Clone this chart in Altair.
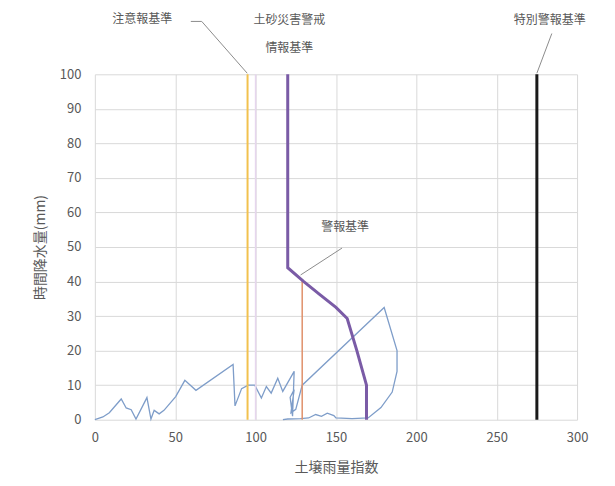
import altair as alt
import pandas as pd

# Snake line (soil rain index vs hourly rainfall), in path order
snake_x = [0, 5, 9, 16.4, 19.5, 22.6, 25.6, 32.4, 34.9, 36.9, 40, 43, 50.3, 56, 62.9, 86, 87.2,
           91.3, 95.4, 99.5, 103.6, 106.7, 109.7, 113.8, 116.9, 124, 123, 121.5, 124, 122, 125,
           129, 180, 188, 188, 185, 178, 170, 160, 150, 148.7, 144.6, 141, 137.4, 133, 128, 120, 117]
snake_y = [0, 0.8, 2, 6, 3.4, 2.9, 0.2, 6.4, 0.2, 2.7, 1.7, 2.7, 6.7, 11.4, 8.5, 16, 4,
           9, 10, 10, 6.3, 9.6, 7.7, 12, 8.2, 14, 1, 6.5, 8.7, 2, 3,
           10, 32.5, 20, 14, 8, 3.5, 0.5, 0.3, 0.5, 1.2, 1.9, 1, 1.5, 0.5, 0.3, 0.2, 0]

# CL line (土砂災害警戒情報基準)
cl_x = [120, 120, 130, 140, 150, 157, 163, 169, 169]
cl_y = [100, 44, 40, 36.2, 32.5, 29.3, 20, 10, 0]

# Criterion lines
warn_x = [129, 129]
warn_y = [0, 40.5]
adv_x = [95, 95]
adv_y = [0, 100]
ref_x = [100, 100]
ref_y = [0, 100]
spec_x = [275, 275]
spec_y = [0, 100]

# Annotations
ann_text = ["注意報基準", "土砂災害警戒", "情報基準", "特別警報基準", "警報基準"]
ann_x = [29.5, 121, 121, 283, 155.7]
ann_y = [115.9, 115.6, 107.6, 115.6, 55.8]

# Leader lines (group, x, y)
lead_g = ["a", "a", "a", "b", "b", "c", "c"]
lead_x = [59.7, 66.5, 94.8, 284.3, 275, 153.8, 128]
lead_y = [115.3, 115.3, 100.3, 111.8, 100.3, 49.7, 41.9]

x_ticks = [0, 50, 100, 150, 200, 250, 300]
y_ticks = [0, 10, 20, 30, 40, 50, 60, 70, 80, 90, 100]

xs = alt.Scale(domain=[0, 300], nice=False)
ys = alt.Scale(domain=[0, 100], nice=False)

X_AXIS = alt.Axis(values=x_ticks, grid=True, ticks=False, domain=False, labelFlush=False,
                  labelOverlap=False, labelPadding=12, titlePadding=16)
Y_AXIS = alt.Axis(values=y_ticks, grid=True, ticks=False, domain=False, labelFlush=False,
                  labelOverlap=False, labelPadding=14, titlePadding=12)


def enc_x():
    return alt.X("x:Q", scale=xs, title="土壌雨量指数", axis=X_AXIS)


def enc_y():
    return alt.Y("y:Q", scale=ys, title="時間降水量(mm)", axis=Y_AXIS)


def line_df(xv, yv):
    return pd.DataFrame({"x": xv, "y": yv, "o": list(range(len(xv)))})


def line_layer(df, color, width):
    return alt.Chart(df).mark_line(color=color, strokeWidth=width).encode(
        x=enc_x(), y=enc_y(), order="o:Q")


layers = [
    line_layer(line_df(snake_x, snake_y), "#7e9dc9", 1.3),
    line_layer(line_df(ref_x, ref_y), "#e6d6ee", 1.5),
    line_layer(line_df(adv_x, adv_y), "#f2c14e", 2),
    line_layer(line_df(warn_x, warn_y), "#e0906a", 1.5),
    line_layer(line_df(cl_x, cl_y), "#7a5ba6", 3),
    line_layer(line_df(spec_x, spec_y), "#1a1a1a", 3),
]

lead_df = pd.DataFrame({"g": lead_g, "x": lead_x, "y": lead_y, "o": list(range(len(lead_x)))})
leaders = alt.Chart(lead_df).mark_line(color="#8c8c8c", strokeWidth=1).encode(
    x=enc_x(), y=enc_y(), detail="g:N", order="o:Q")

ann_df = pd.DataFrame({"t": ann_text, "x": ann_x, "y": ann_y})
texts = alt.Chart(ann_df).mark_text(fontSize=12, color="#595959", align="center",
                                    baseline="middle").encode(
    x=enc_x(), y=enc_y(), text="t:N")

chart = alt.layer(*layers, leaders, texts).properties(
    width=483, height=346,
    padding={"left": 87, "top": 66, "right": 30, "bottom": 60},
    autosize=alt.AutoSizeParams(type="none"),
).configure(font="Noto Sans CJK JP").configure_axis(
    gridColor="#d9d9d9", gridWidth=1, labelColor="#595959", titleColor="#595959",
    labelFontSize=13, titleFontSize=14, titleFontWeight="normal",
    labelFont="Noto Sans CJK JP", titleFont="Noto Sans CJK JP"
).configure_view(stroke=None)

chart.save("out.html", embed_options={"renderer": "svg", "actions": False})
